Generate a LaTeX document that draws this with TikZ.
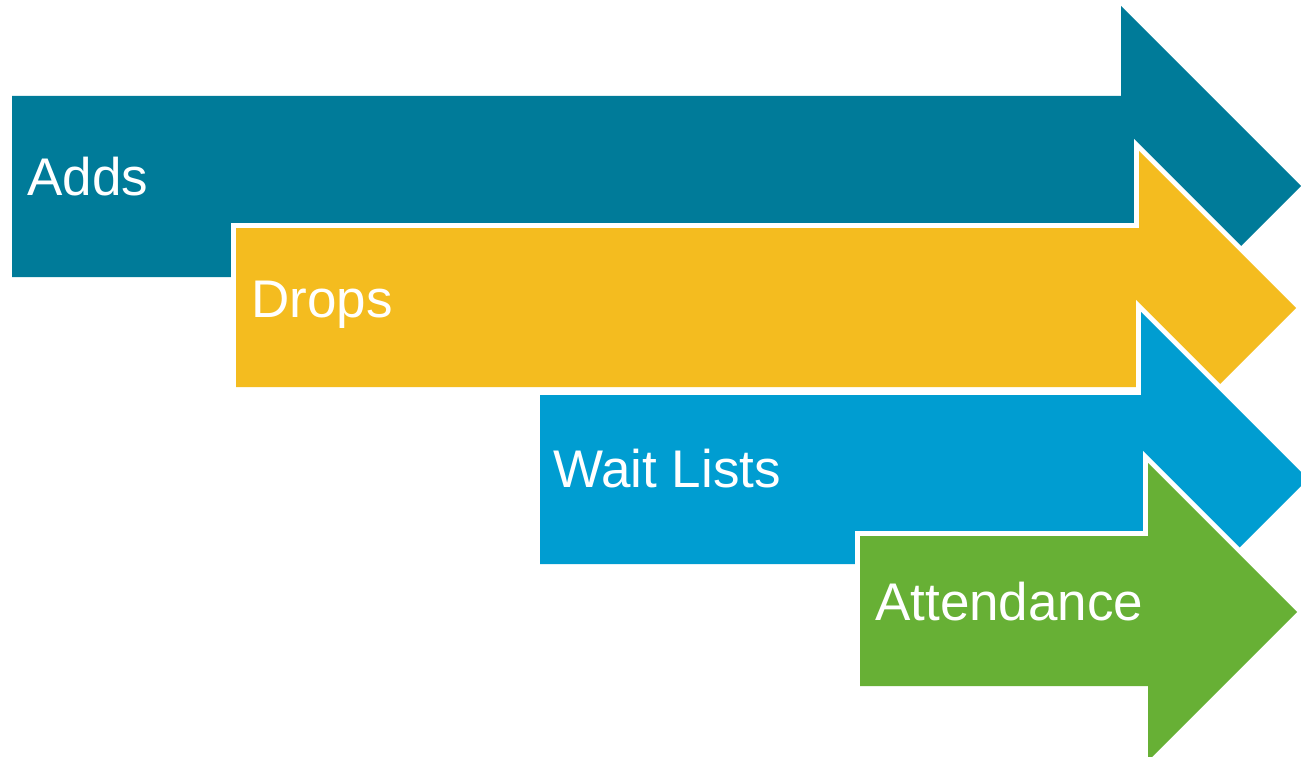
\documentclass[tikz,border=0pt]{standalone}
\usepackage{fontspec}
\setmainfont{Liberation Sans}
\definecolor{cteal}{RGB}{0,123,153}
\definecolor{cyellow}{RGB}{244,188,31}
\definecolor{cblue}{RGB}{0,157,209}
\definecolor{cgreen}{RGB}{103,176,53}
\tikzset{
  outline/.style={draw=white, fill=white, line width=10pt, line join=miter},
  arrowfill/.style={draw=none},
  lbl/.style={anchor=base west, inner sep=0pt, text=white, font=\fontsize{53}{60}\selectfont}
}
\begin{document}
\begin{tikzpicture}[x=1pt,y=-1pt]
\useasboundingbox (0,0) rectangle (1301,757);
\clip (0,0) rectangle (1301,757);
% Adds arrow
\fill[cteal] (12,96) -- (1121,96) -- (1121,6) -- (1301,186) -- (1121,366) -- (1121,277) -- (12,277) -- cycle;
% Drops arrow
\path[outline] (236,228) -- (1139,228) -- (1139,151) -- (1296,308) -- (1139,465) -- (1139,387) -- (236,387) -- cycle;
\fill[cyellow] (236,228) -- (1139,228) -- (1139,151) -- (1296,308) -- (1139,465) -- (1139,387) -- (236,387) -- cycle;
% Wait Lists arrow
\path[outline] (540,395) -- (1141,395) -- (1141,312) -- (1308,479) -- (1141,646) -- (1141,564) -- (540,564) -- cycle;
\fill[cblue] (540,395) -- (1141,395) -- (1141,312) -- (1308,479) -- (1141,646) -- (1141,564) -- (540,564) -- cycle;
% Attendance arrow
\path[outline] (860,536) -- (1148,536) -- (1148,463) -- (1297,612) -- (1148,761) -- (1148,686) -- (860,686) -- cycle;
\fill[cgreen] (860,536) -- (1148,536) -- (1148,463) -- (1297,612) -- (1148,761) -- (1148,686) -- (860,686) -- cycle;
% labels
\node[lbl] (adds) at (27,195) {Adds};
\node[lbl] (drops) at (251,317) {Drops};
\node[lbl] (wait) at (553,487) {Wait Lists};
\node[lbl] (att) at (875,620) {Attendance};
\end{tikzpicture}
\end{document}
